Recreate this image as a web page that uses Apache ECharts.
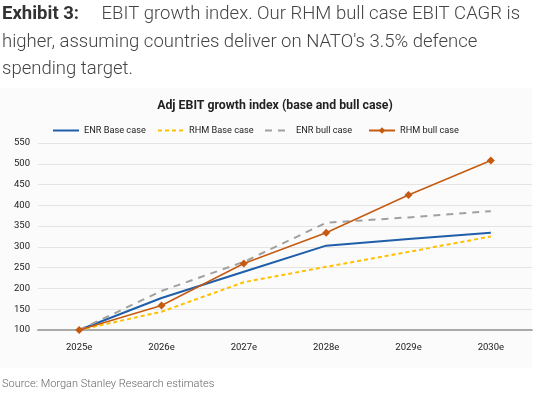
<!DOCTYPE html>
<html>
<head>
<meta charset="utf-8">
<script src="https://cdn.jsdelivr.net/npm/echarts@6/dist/echarts.min.js"></script>
<style>
  html, body { margin: 0; padding: 0; background: #fff; }
  #chart { width: 545px; height: 396px; }
</style>
</head>
<body>
<div id="chart"></div>
<script>
// 年份（横轴类目）
var years = ['2025e', '2026e', '2027e', '2028e', '2029e', '2030e'];
// 各情形的EBIT增长指数（2025e = 100）
var enrBase = [100, 177, 240, 303, 319, 334];
var rhmBase = [100, 144, 215, 252, 288, 325];
var enrBull = [100, 194, 264, 358, 371, 386];
var rhmBull = [100, 159, 260, 334, 425, 508];
var yTicks = [100, 150, 200, 250, 300, 350, 400, 450, 500, 550];

var chart = echarts.init(document.getElementById('chart'));

// 图例中只显示线型，不显示圆点
var hideDot = { opacity: 0 };

// 每个图例项单独定位，与原图对齐
function legendAt(x, item) {
    return {
        top: 126,
        left: x,
        padding: 0,
        itemWidth: 26,
        itemHeight: 8,
        textStyle: { fontSize: 9.2, color: '#222' },
        data: [item]
    };
}

var option = {
    animation: false,
    textStyle: { fontFamily: 'Roboto' },
    graphic: [{
        type: 'rect',
        shape: { x: 0, y: 88, width: 532, height: 280 },
        style: { fill: '#fbfbfb' },
        z: -10
    }, {
        type: 'text',
        left: 2,
        top: 1,
        style: {
            text: '{b|Exhibit 3:}     EBIT growth index. Our RHM bull case EBIT CAGR is\nhigher, assuming countries deliver on NATO\'s 3.5% defence\nspending target.',
            font: '300 18.5px Roboto',
            fill: '#444',
            lineHeight: 27.5,
            rich: {
                b: { font: 'bold 18.5px Roboto', fill: '#333' }
            }
        }
    }, {
        type: 'text',
        left: 2,
        top: 379,
        style: {
            text: 'Source: Morgan Stanley Research estimates',
            font: '300 11px Roboto',
            fill: '#666'
        }
    }],
    title: {
        text: 'Adj EBIT growth index (base and bull case)',
        left: 270,
        textAlign: 'center',
        top: 95,
        textStyle: { fontSize: 12.3, fontWeight: 'bold', color: '#222', fontFamily: 'Roboto' }
    },
    legend: [
        legendAt(52, { name: 'ENR Base case', itemStyle: hideDot }),
        legendAt(157, { name: 'RHM Base case', itemStyle: hideDot }),
        legendAt(264, { name: 'ENR bull case', itemStyle: hideDot }),
        legendAt(368, { name: 'RHM bull case' })
    ],
    grid: {
        left: 38,
        right: 13,
        top: 143,
        bottom: 66
    },
    xAxis: {
        type: 'category',
        data: years,
        boundaryGap: true,
        axisLine: { lineStyle: { color: '#aaa', width: 2 } },
        axisTick: { show: false },
        axisLabel: { fontSize: 9.5, color: '#222', margin: 13 }
    },
    yAxis: {
        type: 'value',
        min: yTicks[0],
        max: yTicks[yTicks.length - 1],
        interval: 50,
        axisLine: { show: false },
        axisTick: { show: false },
        axisLabel: { fontSize: 9.5, color: '#222', margin: 8 },
        splitLine: { lineStyle: { color: '#e4e4e4', width: 1 } }
    },
    series: [{
        name: 'ENR Base case',
        type: 'line',
        data: enrBase,
        symbol: 'none',
        color: '#1f5ea8',
        lineStyle: { width: 2, color: '#1f5ea8' }
    }, {
        name: 'RHM Base case',
        type: 'line',
        data: rhmBase,
        symbol: 'none',
        color: '#ffc000',
        lineStyle: { width: 2, color: '#ffc000', type: [4, 3] }
    }, {
        name: 'ENR bull case',
        type: 'line',
        data: enrBull,
        symbol: 'none',
        color: '#a0a0a0',
        lineStyle: { width: 2, color: '#a0a0a0', type: [7, 6] }
    }, {
        name: 'RHM bull case',
        type: 'line',
        data: rhmBull,
        symbol: 'diamond',
        symbolSize: 8,
        color: '#c55a11',
        itemStyle: { color: '#c55a11' },
        lineStyle: { width: 1.5, color: '#c55a11' }
    }]
};

chart.setOption(option);
</script>
</body>
</html>
